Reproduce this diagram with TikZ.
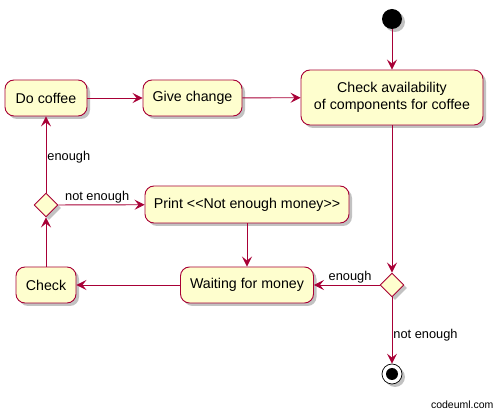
\documentclass[tikz,border=0pt]{standalone}
\usepackage{fontspec}
\setmainfont{Liberation Sans}
\usetikzlibrary{arrows.meta,shapes.geometric,shadows}
\definecolor{umlred}{HTML}{A80036}
\definecolor{umlfill}{HTML}{FEFECE}
\tikzset{
  act/.style={draw=umlred, fill=umlfill, line width=0.9pt, rounded corners=9pt,
    inner sep=0pt, align=center, minimum height=36pt,
    drop shadow={shadow xshift=3pt, shadow yshift=-3pt, opacity=0.4, fill=black!60}},
  choice/.style={diamond, draw=umlred, fill=umlfill, line width=0.9pt, inner sep=0pt,
    minimum width=24pt, minimum height=24pt,
    drop shadow={shadow xshift=3pt, shadow yshift=-3pt, opacity=0.4, fill=black!60}},
  flow/.style={->, draw=umlred, line width=0.9pt},
  lbl/.style={font=\fontsize{12.8}{14}\selectfont, inner sep=1pt}
}
\begin{document}
\begin{tikzpicture}[x=1pt, y=-1pt, font=\fontsize{14.2}{16.5}\selectfont,
    line join=round, >={Stealth[length=10pt, width=10pt, inset=4pt]}]
  \useasboundingbox (0,0) rectangle (499,414);
  \node[circle, fill=black, minimum size=20pt, inner sep=0pt,
    drop shadow={shadow xshift=3pt, shadow yshift=-3pt, opacity=0.4, fill=black!60}]
    (start) at (392,19) {};
  \node[act, minimum width=182pt, minimum height=55pt] (avail) at (392,97.5)
    {Check availability\\ of components for coffee};
  \node[act, minimum width=82pt] (coffee) at (46,98) {Do coffee};
  \node[act, minimum width=99pt] (change) at (192.5,98) {Give change};
  \node[choice] (chk1) at (46,205) {};
  \node[act, minimum width=204pt, minimum height=37pt] (print) at (247,204.5)
    {Print <{}<Not enough money>{}>};
  \node[act, minimum width=133pt] (wait) at (247,285) {Waiting for money};
  \node[act, minimum width=60pt] (check) at (46,285) {Check};
  \node[choice] (chk2) at (392,285) {};
  \node[circle, draw=black, fill=white, line width=0.7pt, minimum size=20pt, inner sep=0pt,
    drop shadow={shadow xshift=3pt, shadow yshift=-3pt, opacity=0.4, fill=black!60}]
    (stop) at (392,374) {};
  \fill (stop) circle (6pt);
  \foreach \a/\b in {start/avail, avail/chk2, wait/check, check/chk1, print/wait,
    coffee/change, change/avail}
    \draw[flow] (\a) -- (\b);
  \draw[flow] (chk2) -- node[lbl, above, pos=0.45] {enough} (wait);
  \draw[flow] (chk2) -- node[lbl, right, pos=0.57] {not enough} (stop);
  \draw[flow] (chk1) -- node[lbl, right, pos=0.46] {enough} (coffee);
  \draw[flow] (chk1) -- node[lbl, above, pos=0.45] {not enough} (print);
  \node[font=\fontsize{10.5}{12}\selectfont, anchor=east] (brand) at (497,405) {codeuml.com};
\end{tikzpicture}
\end{document}
